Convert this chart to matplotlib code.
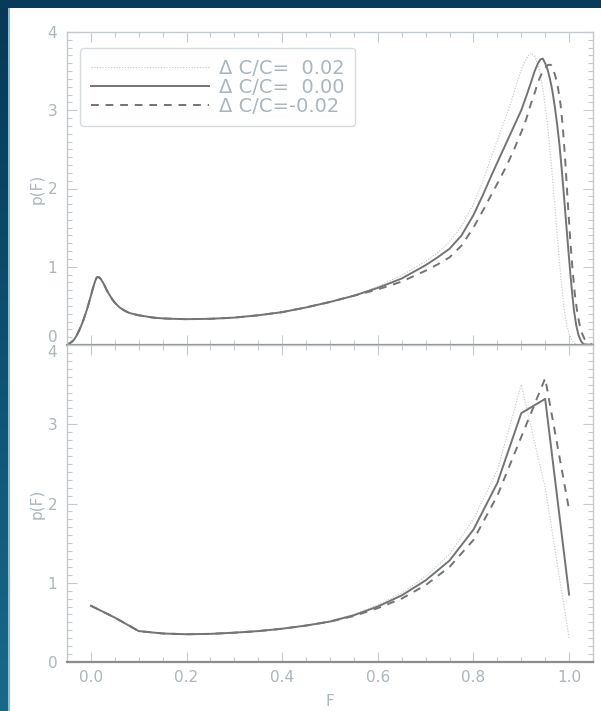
import numpy as np
import matplotlib
matplotlib.use("Agg")
import matplotlib.pyplot as plt
from matplotlib.ticker import MultipleLocator

# ---- data ----
labels = ["Δ C/C=  0.02", "Δ C/C=  0.00", "Δ C/C=-0.02"]

# top panel: shared low-F part of the distribution
F_low = [-0.05, -0.045, -0.04, -0.035, -0.03, -0.025, -0.02, -0.015, -0.01, -0.005,
         0.0, 0.004, 0.008, 0.011, 0.014, 0.017, 0.021, 0.026, 0.03, 0.035, 0.04,
         0.045, 0.05, 0.055, 0.06, 0.07, 0.08, 0.09, 0.10, 0.115, 0.13, 0.15, 0.17,
         0.20, 0.25, 0.30, 0.35, 0.40, 0.45, 0.50, 0.55]
p_low = [0.0, 0.02, 0.04, 0.07, 0.12, 0.18, 0.25, 0.33, 0.42, 0.52,
         0.63, 0.72, 0.80, 0.85, 0.87, 0.865, 0.84, 0.79, 0.74, 0.68, 0.63,
         0.58, 0.54, 0.51, 0.48, 0.44, 0.41, 0.395, 0.38, 0.365, 0.35, 0.34, 0.335,
         0.33, 0.335, 0.35, 0.38, 0.42, 0.48, 0.55, 0.63]

# top panel: high-F part for each run
F_hi_p02 = [0.6, 0.65, 0.7, 0.725, 0.75, 0.775, 0.8, 0.82, 0.84, 0.855, 0.87, 0.882,
            0.893, 0.902, 0.91, 0.916, 0.922, 0.928, 0.934, 0.94, 0.947, 0.956,
            0.963, 0.97, 0.975, 0.98, 0.985, 0.99, 0.995, 1.0, 1.006, 1.012, 1.02]
p_hi_p02 = [0.75, 0.89, 1.07, 1.18, 1.32, 1.52, 1.80, 2.10, 2.45, 2.70, 2.95, 3.17,
            3.39, 3.55, 3.65, 3.71, 3.73, 3.69, 3.60, 3.45, 3.20, 2.75,
            2.30, 1.80, 1.42, 1.05, 0.72, 0.45, 0.26, 0.14, 0.06, 0.02, 0.0]

F_hi_000 = [0.6, 0.65, 0.7, 0.725, 0.75, 0.775, 0.8, 0.82, 0.84, 0.855, 0.87, 0.885,
            0.9, 0.91, 0.92, 0.928, 0.935, 0.94, 0.945, 0.95, 0.955, 0.96, 0.965,
            0.97, 0.975, 0.98, 0.985, 0.99, 0.995, 1.0, 1.005, 1.01, 1.015, 1.02,
            1.025, 1.03, 1.05]
p_hi_000 = [0.73, 0.85, 1.02, 1.12, 1.23, 1.40, 1.66, 1.92, 2.20, 2.40, 2.60, 2.80,
            3.00, 3.17, 3.35, 3.50, 3.60, 3.65, 3.66, 3.60, 3.52, 3.40, 3.25,
            3.05, 2.82, 2.55, 2.22, 1.85, 1.47, 1.10, 0.75, 0.45, 0.25, 0.12,
            0.05, 0.01, 0.0]

F_hi_m02 = [0.6, 0.65, 0.7, 0.725, 0.75, 0.775, 0.8, 0.82, 0.84, 0.855, 0.87, 0.885,
            0.9, 0.91, 0.92, 0.928, 0.935, 0.942, 0.95, 0.956, 0.962, 0.967, 0.972,
            0.977, 0.982, 0.987, 0.992, 0.997, 1.002, 1.007, 1.012, 1.017, 1.022,
            1.027, 1.032, 1.04, 1.05]
p_hi_m02 = [0.71, 0.81, 0.95, 1.03, 1.12, 1.27, 1.50, 1.72, 1.95, 2.12, 2.30, 2.50,
            2.72, 2.88, 3.08, 3.22, 3.36, 3.46, 3.54, 3.58, 3.58, 3.52, 3.42,
            3.28, 3.08, 2.78, 2.35, 1.85, 1.38, 0.98, 0.65, 0.42, 0.26,
            0.15, 0.08, 0.03, 0.0]

# bottom panel: binned values
F_bins = [0.0, 0.05, 0.1, 0.15, 0.2, 0.25, 0.3, 0.35, 0.4, 0.45, 0.5,
          0.55, 0.6, 0.65, 0.7, 0.75, 0.8, 0.85, 0.9, 0.95, 1.0]
pb_p02 = [0.71, 0.56, 0.39, 0.36, 0.35, 0.355, 0.37, 0.39, 0.42, 0.46, 0.52,
          0.60, 0.72, 0.87, 1.08, 1.36, 1.80, 2.42, 3.50, 2.20, 0.30]
pb_000 = [0.71, 0.56, 0.39, 0.36, 0.35, 0.355, 0.37, 0.39, 0.42, 0.46, 0.51,
          0.59, 0.70, 0.84, 1.03, 1.28, 1.67, 2.26, 3.14, 3.32, 0.85]
pb_m02 = [0.71, 0.56, 0.39, 0.36, 0.35, 0.355, 0.37, 0.39, 0.42, 0.46, 0.51,
          0.58, 0.68, 0.80, 0.97, 1.20, 1.54, 2.10, 2.84, 3.58, 1.92]

xticks = [0.0, 0.2, 0.4, 0.6, 0.8, 1.0]
xticklabels = ["0.0", "0.2", "0.4", "0.6", "0.8", "1.0"]
yticks = [0, 1, 2, 3, 4]

# ---- styles ----
txt_col = "#aab6bd"
line_col = "#747474"
dot_col = "#bac7cd"
spine_col = "#c4cbcf"
styles = [dict(color=dot_col, lw=0.8, ls=(0, (1, 1.5))),
          dict(color=line_col, lw=1.4, ls="-"),
          dict(color=line_col, lw=1.4, ls=(0, (4, 3.5)))]

fig = plt.figure(figsize=(6.01, 7.11), dpi=100, facecolor="white")

# dark frame on the left and top edges
W, H = 601, 711
bg = fig.add_axes([0, 0, 1, 1], zorder=-10)
bg.set_xlim(0, W)
bg.set_ylim(H, 0)
bg.axis("off")
grad = np.linspace(0, 1, 256)[:, None]
c0 = np.array([0x07, 0x38, 0x57]) / 255.
c1 = np.array([0x16, 0x6a, 0x8b]) / 255.
img = (c0[None, None, :] * (1 - grad[..., None]) + c1[None, None, :] * grad[..., None])
bg.imshow(img, extent=(0, 8, H, 0), aspect="auto")
bg.add_patch(plt.Rectangle((0, 0), W, 8, color="#083b5a", lw=0))
bg.add_patch(plt.Rectangle((8, 8), 1.5, H, color="#7fc0dc", lw=0))

left, right = 67 / W, 593 / W
y_top, y_mid, y_bot = 1 - 32 / H, 1 - 345 / H, 1 - 662 / H
ax1 = fig.add_axes([left, y_mid, right - left, y_top - y_mid])
ax2 = fig.add_axes([left, y_bot, right - left, y_mid - y_bot])

top_F = [F_low + F_hi_p02, F_low + F_hi_000, F_low + F_hi_m02]
top_p = [p_low + p_hi_p02, p_low + p_hi_000, p_low + p_hi_m02]
for F, p, st, lab in zip(top_F, top_p, styles, labels):
    ax1.plot(F, p, label=lab, **st)

for p, st in zip([pb_p02, pb_000, pb_m02], styles):
    ax2.plot(F_bins, p, **st)

for ax in (ax1, ax2):
    ax.set_xlim(-0.05, 1.05)
    ax.set_ylim(0, 4)
    ax.set_xticks(xticks)
    ax.set_yticks(yticks)
    ax.xaxis.set_minor_locator(MultipleLocator(0.05))
    ax.yaxis.set_minor_locator(MultipleLocator(0.1))
    ax.tick_params(which="both", direction="in", top=True, right=True,
                   colors=spine_col, labelcolor=txt_col, labelsize=11)
    ax.tick_params(which="major", length=7, width=0.8)
    ax.tick_params(which="minor", length=3.5, width=0.8)
    ax.tick_params(axis="y", pad=7)
    for s in ax.spines.values():
        s.set_color(spine_col)
        s.set_linewidth(1.0)
    ax.spines["bottom"].set_color("#8c8c8c")
    ax.spines["bottom"].set_linewidth(1.6)
    ax.set_ylabel("p(F)", color=txt_col, fontsize=11, labelpad=2)

ax1.set_xticklabels([])
ax2.set_xticklabels(xticklabels)
ax2.tick_params(axis="x", pad=6)
ax2.set_xlabel("F", color=txt_col, fontsize=11, labelpad=6)

# keep the shared "0" / "4" labels from overlapping
fig.canvas.draw()
ax1.get_yticklabels()[0].set_va("bottom")
ax2.get_yticklabels()[-1].set_va("top")

leg = ax1.legend(loc="upper left", bbox_to_anchor=(0.025, 0.949), borderaxespad=0,
                 fontsize=14, handlelength=6.1, handletextpad=0.5, labelspacing=0.0,
                 frameon=True, fancybox=True, borderpad=0.55)
leg.get_frame().set_edgecolor("#cdd4d8")
leg.get_frame().set_linewidth(1.0)
for t in leg.get_texts():
    t.set_color(txt_col)

fig.savefig("out.png", dpi=100, facecolor="white")
